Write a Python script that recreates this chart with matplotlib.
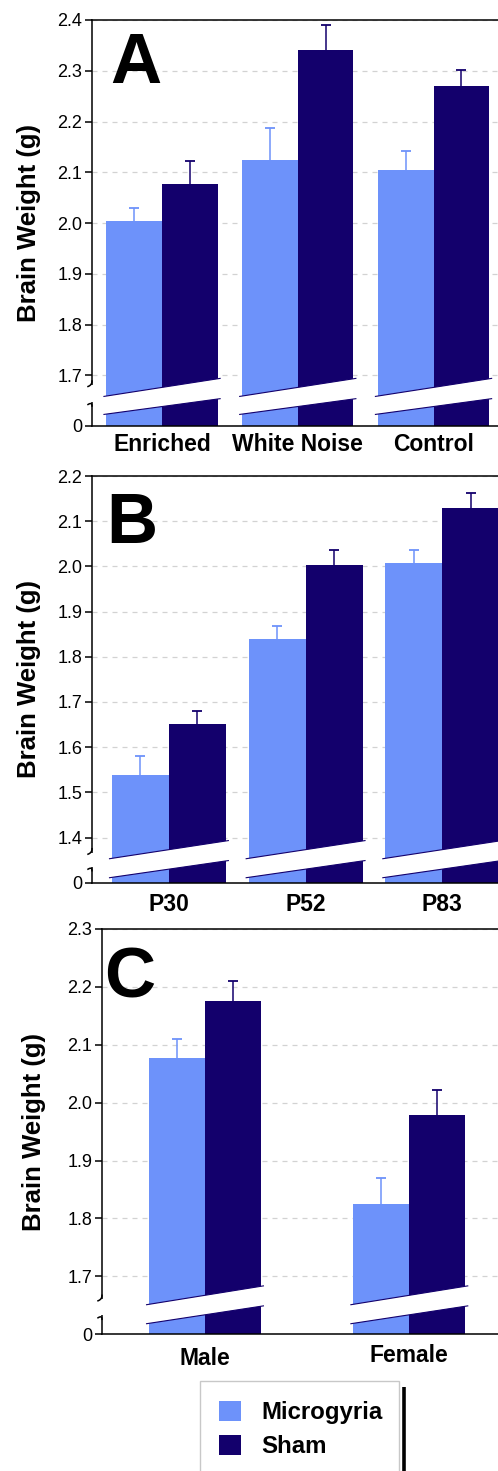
import matplotlib
matplotlib.use('Agg')
import matplotlib.pyplot as plt
import numpy as np
from matplotlib.patches import Polygon, Rectangle
from matplotlib.lines import Line2D
from matplotlib.transforms import ScaledTranslation

plt.rcParams['font.family'] = ['Liberation Sans', 'DejaVu Sans']

# ---------------- data ----------------
a_categories = ['Enriched', 'White Noise', 'Control']
a_micro = [2.004, 2.125, 2.105]
a_micro_err = [0.026, 0.062, 0.037]
a_sham = [2.077, 2.341, 2.269]
a_sham_err = [0.045, 0.049, 0.033]
a_ticks = [1.6, 1.7, 1.8, 1.9, 2.0, 2.1, 2.2, 2.3, 2.4]
a_ticklabels = ['0', '1.7', '1.8', '1.9', '2.0', '2.1', '2.2', '2.3', '2.4']

b_categories = ['P30', 'P52', 'P83']
b_micro = [1.539, 1.840, 2.007]
b_micro_err = [0.042, 0.029, 0.029]
b_sham = [1.652, 2.003, 2.129]
b_sham_err = [0.027, 0.033, 0.033]
b_ticks = [1.3, 1.4, 1.5, 1.6, 1.7, 1.8, 1.9, 2.0, 2.1, 2.2]
b_ticklabels = ['0', '1.4', '1.5', '1.6', '1.7', '1.8', '1.9', '2.0', '2.1', '2.2']

c_categories = ['Male', 'Female']
c_micro = [2.077, 1.825]
c_micro_err = [0.033, 0.045]
c_sham = [2.176, 1.979]
c_sham_err = [0.035, 0.043]
c_ticks = [1.6, 1.7, 1.8, 1.9, 2.0, 2.1, 2.2, 2.3]
c_ticklabels = ['0', '1.7', '1.8', '1.9', '2.0', '2.1', '2.2', '2.3']

series_labels = ['Microgyria', 'Sham']
ylabel_text = 'Brain Weight (g)'

# ---------------- style ----------------
LIGHT = '#6d92fa'
NAVY = '#13006c'
W, H = 498, 1471

fig = plt.figure(figsize=(W / 100, H / 100), dpi=100)


def add_axes_px(left, top, right, bottom):
    return fig.add_axes([left / W, 1 - bottom / H, (right - left) / W, (bottom - top) / H])


def bezier(p0, p1, p2, n=12):
    t = np.linspace(0, 1, n)[:, None]
    p0, p1, p2 = map(np.asarray, (p0, p1, p2))
    return (1 - t) ** 2 * p0 + 2 * (1 - t) * t * p1 + t ** 2 * p2


def panel(rect, xlim, width, cats, micro, merr, sham, serr, ticks, ticklabels,
          xpad, band_up, band_lo, gap, letter, letter_xy, label_baseline_x,
          label_shift=None):
    ax = add_axes_px(*rect)
    ybot, ytop = ticks[0], ticks[-1]
    x = np.arange(len(cats))
    ax.set_xlim(*xlim)
    ax.set_ylim(ybot, ytop)
    hm = np.array(micro) - ybot
    hs = np.array(sham) - ybot
    bm = ax.bar(x - width / 2, hm, width, bottom=ybot, color=LIGHT, zorder=2)
    bs = ax.bar(x + width / 2, hs, width, bottom=ybot, color=NAVY, zorder=2)
    for xs, vals, errs, col in ((x - width / 2, micro, merr, LIGHT),
                                (x + width / 2, sham, serr, NAVY)):
        ax.errorbar(xs, vals, yerr=[np.zeros(len(errs)), errs], fmt='none',
                    ecolor=col, elinewidth=1.1, capsize=0, zorder=3)
        ax.plot(xs, np.array(vals) + np.array(errs), linestyle='none', marker='_',
                markersize=7, markeredgewidth=1.3, color=col, zorder=3)

    ax.set_yticks(ticks)
    ax.set_yticklabels(ticklabels)
    ax.set_xticks(x)
    ax.set_xticklabels(cats, fontsize=16.5, fontweight='bold')
    ax.tick_params(axis='x', length=0, pad=xpad)
    ax.tick_params(axis='y', length=5, width=1.1, pad=2, labelsize=13, direction='out')
    if label_shift is not None:
        for lab, dy in zip(ax.get_xticklabels(), label_shift):
            lab.set_transform(lab.get_transform() + ScaledTranslation(0, dy / 100, fig.dpi_scale_trans))
    ax.set_axisbelow(True)
    ax.yaxis.grid(True, color='#d2d2d2', linestyle=(0, (4, 4)), linewidth=0.9)
    for s in ['left', 'bottom', 'top']:
        ax.spines[s].set_linewidth(1.1)
    ax.spines['right'].set_visible(False)

    # y label
    ax.set_ylabel(ylabel_text, fontsize=18.5, fontweight='bold')
    axw = rect[2] - rect[0]
    ax.yaxis.set_label_coords((label_baseline_x - rect[0]) / axw, 0.5)
    ax.yaxis.label.set_verticalalignment('baseline')

    # broken-bar bands
    trans = ax.transData
    inv = trans.inverted()
    for c in x:
        x0 = trans.transform((c - width, ybot))[0] - 3
        x1 = trans.transform((c + width, ybot))[0] + 3
        yb = trans.transform((c, ybot))[1]
        disp = [(x0, yb + band_lo[0]), (x1, yb + band_lo[1]),
                (x1, yb + band_up[1]), (x0, yb + band_up[0])]
        pts = inv.transform(disp)
        ax.add_patch(Polygon(pts, closed=True, facecolor='white', edgecolor='none',
                             zorder=5, clip_on=False))
        for e in (band_lo, band_up):
            seg = inv.transform([(x0, yb + e[0]), (x1, yb + e[1])])
            ax.plot(seg[:, 0], seg[:, 1], color=NAVY, lw=0.8, zorder=6, clip_on=False,
                    solid_capstyle='butt')

    # y-axis break
    sx, yb = trans.transform((xlim[0], ybot))
    g_lo, g_hi = gap
    r = inv.transform([(sx - 6, yb + g_lo), (sx + 3, yb + g_hi)])
    ax.add_patch(Rectangle(r[0], r[1][0] - r[0][0], r[1][1] - r[0][1], facecolor='white',
                           edgecolor='none', zorder=7, clip_on=False))
    hook1 = bezier((sx, yb + g_hi + 4), (sx, yb + g_hi), (sx - 4, yb + g_hi - 1.5))
    hook2 = bezier((sx, yb + g_lo - 4), (sx, yb + g_lo), (sx - 4, yb + g_lo - 2.5))
    for hk in (hook1, hook2):
        hd = inv.transform(hk)
        ax.plot(hd[:, 0], hd[:, 1], color='black', lw=1.1, zorder=8, clip_on=False)

    # panel letter
    fig.text(letter_xy[0] / W, 1 - letter_xy[1] / H, letter, fontsize=51,
             fontweight='bold', ha='left', va='baseline')
    return ax, bm, bs


# Panel A
panel((92, 20, 498, 426), (-0.516, 2.475), 0.41, a_categories, a_micro, a_micro_err,
      a_sham, a_sham_err, a_ticks, a_ticklabels, 5.0,
      (29.5, 47.7), (11.5, 27.4), (24, 41), 'A', (110.5, 83.3), 36)

# Panel B
panel((92, 476, 498, 882.7), (-0.563, 2.408), 0.417, b_categories, b_micro, b_micro_err,
      b_sham, b_sham_err, b_ticks, b_ticklabels, 7.5,
      (23.9, 42.2), (4.9, 22.2), (16, 30), 'B', (106.5, 543.3), 36)

# Panel C
axc, bmc, bsc = panel((102, 929, 498, 1334.3), (-0.504, 1.434), 0.274, c_categories,
                      c_micro, c_micro_err, c_sham, c_sham_err, c_ticks, c_ticklabels, 9.5,
                      (29.5, 48.5), (10.5, 28.5), (19, 35), 'C', (104.5, 997.5), 40.5,
                      label_shift=[0, 3])

# legend (frame drawn separately so that it runs off the bottom edge)
leg = fig.legend(handles=[bmc, bsc], labels=series_labels, loc='upper left',
                 bbox_to_anchor=(202 / W, 1 - 1384 / H), bbox_transform=fig.transFigure,
                 borderaxespad=0, frameon=False, prop={'weight': 'bold', 'size': 17.3},
                 borderpad=0.7, handlelength=0.92, handleheight=0.92, handletextpad=0.85,
                 labelspacing=0.45)

fig.add_artist(Rectangle((200 / W, 1 - 1490 / H), 199 / W, 109 / H, transform=fig.transFigure,
                         facecolor='none', edgecolor='#c8c8c8', linewidth=1.0))
fig.add_artist(Line2D([403.5 / W, 403.5 / W], [1 - 1386.7 / H, 0], color='black',
                      lw=2.6, transform=fig.transFigure, solid_capstyle='butt'))

fig.savefig('out.png', dpi=100)
